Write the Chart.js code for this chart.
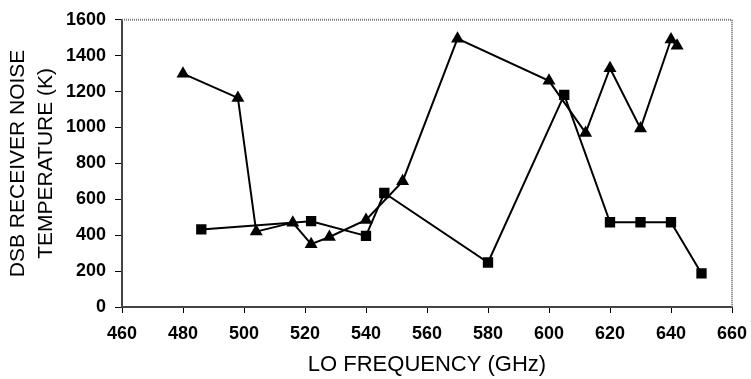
<!DOCTYPE html>
<html>
<head>
<meta charset="utf-8">
<script src="https://cdn.jsdelivr.net/npm/chart.js@4/dist/chart.umd.min.js"></script>
<style>
  html, body { margin: 0; padding: 0; background: #fff; }
  #wrap { width: 751px; height: 379px; }
</style>
</head>
<body>
<div id="wrap"><canvas id="c" width="751" height="379"></canvas></div>
<script>
// LO frequency (GHz) and DSB receiver noise temperature (K) for the two receiver runs
const triangleFreq = [480, 498, 504, 516, 522, 528, 540, 552, 570, 600, 612, 620, 630, 640, 642];
const triangleTemp = [1300, 1165, 420, 470, 350, 390, 485, 700, 1495, 1260, 970, 1330, 995, 1490, 1455];
const squareFreq = [486, 522, 540, 546, 580, 605, 620, 630, 640, 650];
const squareTemp = [432, 478, 396, 635, 248, 1182, 472, 472, 472, 187];

const xTicks = [460, 480, 500, 520, 540, 560, 580, 600, 620, 640, 660];
const yTicks = [0, 200, 400, 600, 800, 1000, 1200, 1400, 1600];

const toPoints = (xs, ys) => xs.map((x, i) => ({ x: x, y: ys[i] }));

const FONT = 'Liberation Sans';
const TICK_FONT = { family: FONT, size: 18, weight: 700 };

// Dotted frame on the top and right edges of the plot area
const frame = {
  id: 'frame',
  afterDatasetsDraw(chart) {
    const { ctx, chartArea: a } = chart;
    ctx.save();
    ctx.strokeStyle = '#7a7a7a';
    ctx.lineWidth = 2;
    ctx.setLineDash([1, 1]);
    ctx.beginPath();
    ctx.moveTo(a.left, a.top);
    ctx.lineTo(a.right, a.top);
    ctx.lineTo(a.right, a.bottom);
    ctx.stroke();
    ctx.restore();
  }
};

new Chart(document.getElementById('c'), {
  type: 'line',
  data: {
    datasets: [
      {
        data: toPoints(triangleFreq, triangleTemp),
        borderColor: '#000',
        backgroundColor: '#000',
        borderWidth: 2,
        pointStyle: 'triangle',
        pointRadius: 7.5,
        pointBorderWidth: 0,
        pointBackgroundColor: '#000',
        tension: 0
      },
      {
        data: toPoints(squareFreq, squareTemp),
        borderColor: '#000',
        backgroundColor: '#000',
        borderWidth: 2,
        pointStyle: 'rect',
        pointRadius: 7.3,
        pointBorderWidth: 0,
        pointBackgroundColor: '#000',
        tension: 0
      }
    ]
  },
  options: {
    responsive: false,
    animation: false,
    layout: { padding: { top: 19, right: 19, bottom: 0, left: 0 } },
    plugins: { legend: { display: false }, tooltip: { enabled: false } },
    scales: {
      x: {
        type: 'linear',
        min: 460,
        max: 660,
        afterBuildTicks: (s) => { s.ticks = xTicks.map(v => ({ value: v })); },
        afterFit: (s) => { s.height = 72; s.paddingLeft = 0; s.paddingRight = 0; },
        grid: { display: true, drawOnChartArea: false, drawTicks: true, tickLength: 6, tickColor: '#000', tickWidth: 1 },
        border: { display: true, color: '#444', width: 2, dash: [1, 1] },
        ticks: { color: '#000', font: TICK_FONT, padding: 10, maxRotation: 0, autoSkip: false, callback: (v) => String(v) },
        title: { display: true, text: 'LO FREQUENCY (GHz)', color: '#000', font: { family: FONT, size: 22 }, padding: { top: 0, bottom: 1 } }
      },
      y: {
        type: 'linear',
        min: 0,
        max: 1600,
        afterBuildTicks: (s) => { s.ticks = yTicks.map(v => ({ value: v })); },
        afterFit: (s) => { s.width = 122; },
        grid: { display: true, drawOnChartArea: false, drawTicks: true, tickLength: 7, tickColor: '#000', tickWidth: 1 },
        border: { display: true, color: '#444', width: 2, dash: [1, 1] },
        ticks: { color: '#000', font: TICK_FONT, padding: 9, callback: (v) => String(v) },
        title: { display: true, text: ['DSB RECEIVER NOISE', 'TEMPERATURE (K)'], color: '#000', font: { family: FONT, size: 21, lineHeight: 1.3 }, padding: { top: 5, bottom: 0 } }
      }
    }
  },
  plugins: [frame]
});
</script>
</body>
</html>
